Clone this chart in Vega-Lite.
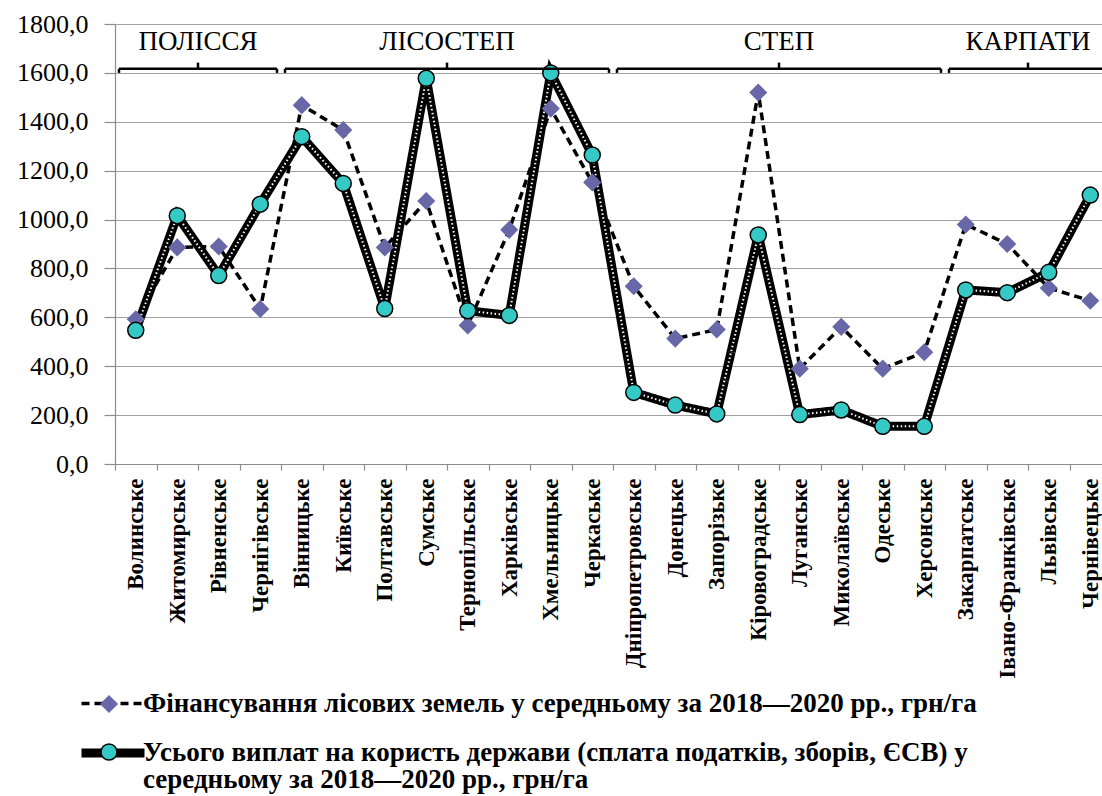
{
  "$schema": "https://vega.github.io/schema/vega-lite/v6.json",
  "width": 987,
  "height": 440,
  "autosize": {"type": "none"},
  "padding": {"left": 115, "top": 24, "right": 0, "bottom": 332},
  "background": "white",
  "config": {
    "view": {"stroke": null},
    "axis": {"labelFont": "Liberation Serif", "labelColor": "black", "domainColor": "#8c8c8c", "tickColor": "#8c8c8c", "gridColor": "#a0a0a0", "gridWidth": 1.2, "domainWidth": 1.2, "tickWidth": 1.2}
  },
  "datasets": {
    "series": [
      {"region": "Волинське", "series": "Фінансування лісових земель у середньому за 2018—2020 рр., грн/га", "value": 592},
      {"region": "Житомирське", "series": "Фінансування лісових земель у середньому за 2018—2020 рр., грн/га", "value": 886},
      {"region": "Рівненське", "series": "Фінансування лісових земель у середньому за 2018—2020 рр., грн/га", "value": 890},
      {"region": "Чернігівське", "series": "Фінансування лісових земель у середньому за 2018—2020 рр., грн/га", "value": 634},
      {"region": "Вінницьке", "series": "Фінансування лісових земель у середньому за 2018—2020 рр., грн/га", "value": 1468},
      {"region": "Київське", "series": "Фінансування лісових земель у середньому за 2018—2020 рр., грн/га", "value": 1366},
      {"region": "Полтавське", "series": "Фінансування лісових земель у середньому за 2018—2020 рр., грн/га", "value": 886},
      {"region": "Сумське", "series": "Фінансування лісових земель у середньому за 2018—2020 рр., грн/га", "value": 1076},
      {"region": "Тернопільське", "series": "Фінансування лісових земель у середньому за 2018—2020 рр., грн/га", "value": 567},
      {"region": "Харківське", "series": "Фінансування лісових земель у середньому за 2018—2020 рр., грн/га", "value": 958},
      {"region": "Хмельницьке", "series": "Фінансування лісових земель у середньому за 2018—2020 рр., грн/га", "value": 1454},
      {"region": "Черкаське", "series": "Фінансування лісових земель у середньому за 2018—2020 рр., грн/га", "value": 1152},
      {"region": "Дніпропетровське", "series": "Фінансування лісових земель у середньому за 2018—2020 рр., грн/га", "value": 727},
      {"region": "Донецьке", "series": "Фінансування лісових земель у середньому за 2018—2020 рр., грн/га", "value": 513},
      {"region": "Запорізьке", "series": "Фінансування лісових земель у середньому за 2018—2020 рр., грн/га", "value": 550},
      {"region": "Кіровоградське", "series": "Фінансування лісових земель у середньому за 2018—2020 рр., грн/га", "value": 1520},
      {"region": "Луганське", "series": "Фінансування лісових земель у середньому за 2018—2020 рр., грн/га", "value": 390},
      {"region": "Миколаївське", "series": "Фінансування лісових земель у середньому за 2018—2020 рр., грн/га", "value": 561},
      {"region": "Одеське", "series": "Фінансування лісових земель у середньому за 2018—2020 рр., грн/га", "value": 390},
      {"region": "Херсонське", "series": "Фінансування лісових земель у середньому за 2018—2020 рр., грн/га", "value": 457},
      {"region": "Закарпатське", "series": "Фінансування лісових земель у середньому за 2018—2020 рр., грн/га", "value": 980},
      {"region": "Івано-Франківське", "series": "Фінансування лісових земель у середньому за 2018—2020 рр., грн/га", "value": 900},
      {"region": "Львівське", "series": "Фінансування лісових земель у середньому за 2018—2020 рр., грн/га", "value": 720},
      {"region": "Чернівецьке", "series": "Фінансування лісових земель у середньому за 2018—2020 рр., грн/га", "value": 668},
      {"region": "Волинське", "series": "Усього виплат на користь держави (сплата податків, зборів, ЄСВ) у середньому за 2018—2020 рр., грн/га", "value": 547},
      {"region": "Житомирське", "series": "Усього виплат на користь держави (сплата податків, зборів, ЄСВ) у середньому за 2018—2020 рр., грн/га", "value": 1016},
      {"region": "Рівненське", "series": "Усього виплат на користь держави (сплата податків, зборів, ЄСВ) у середньому за 2018—2020 рр., грн/га", "value": 771},
      {"region": "Чернігівське", "series": "Усього виплат на користь держави (сплата податків, зборів, ЄСВ) у середньому за 2018—2020 рр., грн/га", "value": 1063},
      {"region": "Вінницьке", "series": "Усього виплат на користь держави (сплата податків, зборів, ЄСВ) у середньому за 2018—2020 рр., грн/га", "value": 1339},
      {"region": "Київське", "series": "Усього виплат на користь держави (сплата податків, зборів, ЄСВ) у середньому за 2018—2020 рр., грн/га", "value": 1148},
      {"region": "Полтавське", "series": "Усього виплат на користь держави (сплата податків, зборів, ЄСВ) у середньому за 2018—2020 рр., грн/га", "value": 636},
      {"region": "Сумське", "series": "Усього виплат на користь держави (сплата податків, зборів, ЄСВ) у середньому за 2018—2020 рр., грн/га", "value": 1578},
      {"region": "Тернопільське", "series": "Усього виплат на користь держави (сплата податків, зборів, ЄСВ) у середньому за 2018—2020 рр., грн/га", "value": 627},
      {"region": "Харківське", "series": "Усього виплат на користь держави (сплата податків, зборів, ЄСВ) у середньому за 2018—2020 рр., грн/га", "value": 608},
      {"region": "Хмельницьке", "series": "Усього виплат на користь держави (сплата податків, зборів, ЄСВ) у середньому за 2018—2020 рр., грн/га", "value": 1600},
      {"region": "Черкаське", "series": "Усього виплат на користь держави (сплата податків, зборів, ЄСВ) у середньому за 2018—2020 рр., грн/га", "value": 1264},
      {"region": "Дніпропетровське", "series": "Усього виплат на користь держави (сплата податків, зборів, ЄСВ) у середньому за 2018—2020 рр., грн/га", "value": 293},
      {"region": "Донецьке", "series": "Усього виплат на користь держави (сплата податків, зборів, ЄСВ) у середньому за 2018—2020 рр., грн/га", "value": 241},
      {"region": "Запорізьке", "series": "Усього виплат на користь держави (сплата податків, зборів, ЄСВ) у середньому за 2018—2020 рр., грн/га", "value": 205},
      {"region": "Кіровоградське", "series": "Усього виплат на користь держави (сплата податків, зборів, ЄСВ) у середньому за 2018—2020 рр., грн/га", "value": 937},
      {"region": "Луганське", "series": "Усього виплат на користь держави (сплата податків, зборів, ЄСВ) у середньому за 2018—2020 рр., грн/га", "value": 202},
      {"region": "Миколаївське", "series": "Усього виплат на користь держави (сплата податків, зборів, ЄСВ) у середньому за 2018—2020 рр., грн/га", "value": 221},
      {"region": "Одеське", "series": "Усього виплат на користь держави (сплата податків, зборів, ЄСВ) у середньому за 2018—2020 рр., грн/га", "value": 154},
      {"region": "Херсонське", "series": "Усього виплат на користь держави (сплата податків, зборів, ЄСВ) у середньому за 2018—2020 рр., грн/га", "value": 154},
      {"region": "Закарпатське", "series": "Усього виплат на користь держави (сплата податків, зборів, ЄСВ) у середньому за 2018—2020 рр., грн/га", "value": 712},
      {"region": "Івано-Франківське", "series": "Усього виплат на користь держави (сплата податків, зборів, ЄСВ) у середньому за 2018—2020 рр., грн/га", "value": 701},
      {"region": "Львівське", "series": "Усього виплат на користь держави (сплата податків, зборів, ЄСВ) у середньому за 2018—2020 рр., грн/га", "value": 784},
      {"region": "Чернівецьке", "series": "Усього виплат на користь держави (сплата податків, зборів, ЄСВ) у середньому за 2018—2020 рр., грн/га", "value": 1100}
    ],
    "zones": [
      {"group": "ПОЛІССЯ", "start": "Волинське", "end": "Чернігівське", "mid": "Рівненське"},
      {"group": "ЛІСОСТЕП", "start": "Вінницьке", "end": "Черкаське", "mid": "Тернопільське"},
      {"group": "СТЕП", "start": "Дніпропетровське", "end": "Херсонське", "mid": "Луганське"},
      {"group": "КАРПАТИ", "start": "Закарпатське", "end": "Чернівецьке", "mid": "Львівське"}
    ]
  },
  "layer": [
    {
      "data": {"name": "series"},
      "mark": {"type": "line", "color": "black"},
      "encoding": {
        "x": {
          "field": "region", "type": "nominal", "sort": null,
          "scale": {"type": "band", "domain": ["Волинське","Житомирське","Рівненське","Чернігівське","Вінницьке","Київське","Полтавське","Сумське","Тернопільське","Харківське","Хмельницьке","Черкаське","Дніпропетровське","Донецьке","Запорізьке","Кіровоградське","Луганське","Миколаївське","Одеське","Херсонське","Закарпатське","Івано-Франківське","Львівське","Чернівецьке"], "range": [0, 996], "paddingInner": 0, "paddingOuter": 0},
          "axis": {"title": null, "labelAngle": -90, "tickBand": "extent", "tickSize": 6, "labelPadding": 8, "labelFontSize": 23, "labelFontWeight": "bold", "labelLimit": 400, "grid": false, "labelOverlap": false}
        },
        "y": {
          "field": "value", "type": "quantitative",
          "scale": {"domain": [0, 1800], "nice": false, "zero": true},
          "axis": {"title": null, "values": [0, 200, 400, 600, 800, 1000, 1200, 1400, 1600, 1800], "grid": true, "tickSize": 11, "labelPadding": 16, "labelFontSize": 26, "labelExpr": "replace(format(datum.value, '.1f'), '.', ',')"}
        },
        "strokeDash": {
          "field": "series", "type": "nominal", "sort": null,
          "scale": {"range": [[8, 5], [1, 0]]},
          "legend": {
            "orient": "none", "legendX": -38, "legendY": 646, "title": null,
            "symbolType": "stroke", "symbolSize": 3969, "symbolStrokeColor": "black",
            "labelFont": "Liberation Serif", "labelFontWeight": "bold", "labelFontSize": 27, "labelColor": "black",
            "labelLimit": 2000, "labelOffset": -6, "labelBaseline": "alphabetic", "rowPadding": -1, "padding": 0,
            "labelExpr": "substring(datum.label, 0, 6) == 'Усього' ? ['Усього виплат на користь держави (сплата податків, зборів, ЄСВ) у', 'середньому за 2018—2020 рр., грн/га'] : datum.label",
            "encoding": {"labels": {"dy": {"value": 8}, "lineHeight": {"value": 27}}}
          }
        },
        "strokeWidth": {
          "field": "series", "type": "nominal", "sort": null,
          "scale": {"type": "ordinal", "range": [3.5, 9]}
        }
      }
    },
    {
      "data": {"name": "series"},
      "transform": [{"filter": "substring(datum.series, 0, 6) == 'Усього'"}],
      "mark": {"type": "line", "color": "white", "strokeWidth": 2, "strokeDash": [1.5, 2.5]},
      "encoding": {
        "x": {"field": "region", "type": "nominal", "sort": null},
        "y": {"field": "value", "type": "quantitative"}
      }
    },
    {
      "data": {"name": "series"},
      "mark": {"type": "point", "filled": true, "size": 256, "strokeWidth": 1.5, "opacity": 1},
      "encoding": {
        "x": {"field": "region", "type": "nominal", "sort": null},
        "y": {"field": "value", "type": "quantitative"},
        "shape": {
          "field": "series", "type": "nominal",
          "scale": {"domain": ["Фінансування лісових земель у середньому за 2018—2020 рр., грн/га", "Усього виплат на користь держави (сплата податків, зборів, ЄСВ) у середньому за 2018—2020 рр., грн/га"], "range": ["diamond", "circle"]},
          "legend": {
            "orient": "none", "legendX": -15, "legendY": 671, "title": null,
            "symbolSize": 256, "symbolStrokeWidth": 1.5, "symbolOpacity": 1,
            "labelExpr": "''", "rowPadding": 26, "padding": 0
          }
        },
        "fill": {
          "field": "series", "type": "nominal",
          "scale": {"domain": ["Фінансування лісових земель у середньому за 2018—2020 рр., грн/га", "Усього виплат на користь держави (сплата податків, зборів, ЄСВ) у середньому за 2018—2020 рр., грн/га"], "range": ["#6868a8", "#35c9c6"]}
        },
        "stroke": {
          "field": "series", "type": "nominal",
          "scale": {"domain": ["Фінансування лісових земель у середньому за 2018—2020 рр., грн/га", "Усього виплат на користь держави (сплата податків, зборів, ЄСВ) у середньому за 2018—2020 рр., грн/га"], "range": ["#6868a8", "black"]}
        }
      }
    },
    {
      "data": {"name": "zones"},
      "mark": {"type": "rule", "color": "black", "strokeWidth": 2.5, "xOffset": 4, "x2Offset": -4},
      "encoding": {
        "x": {"field": "start", "type": "nominal", "bandPosition": 0},
        "x2": {"field": "end", "bandPosition": 1},
        "y": {"datum": 1617, "type": "quantitative"}
      }
    },
    {
      "data": {"name": "zones"},
      "mark": {"type": "rule", "color": "black", "strokeWidth": 2.5, "xOffset": 4},
      "encoding": {
        "x": {"field": "start", "type": "nominal", "bandPosition": 0},
        "y": {"datum": 1617, "type": "quantitative"},
        "y2": {"datum": 1600}
      }
    },
    {
      "data": {"name": "zones"},
      "mark": {"type": "rule", "color": "black", "strokeWidth": 2.5, "xOffset": -4},
      "encoding": {
        "x": {"field": "end", "type": "nominal", "bandPosition": 1},
        "y": {"datum": 1617, "type": "quantitative"},
        "y2": {"datum": 1600}
      }
    },
    {
      "data": {"name": "zones"},
      "mark": {"type": "rule", "color": "black", "strokeWidth": 2.5},
      "encoding": {
        "x": {"field": "mid", "type": "nominal", "bandPosition": 0},
        "y": {"datum": 1617, "type": "quantitative"},
        "y2": {"datum": 1642}
      }
    },
    {
      "data": {"name": "zones"},
      "mark": {"type": "text", "font": "Liberation Serif", "fontSize": 27, "color": "black", "baseline": "middle", "align": "center"},
      "encoding": {
        "x": {"field": "mid", "type": "nominal", "bandPosition": 0},
        "y": {"datum": 1725, "type": "quantitative"},
        "text": {"field": "group", "type": "nominal"}
      }
    }
  ]
}
